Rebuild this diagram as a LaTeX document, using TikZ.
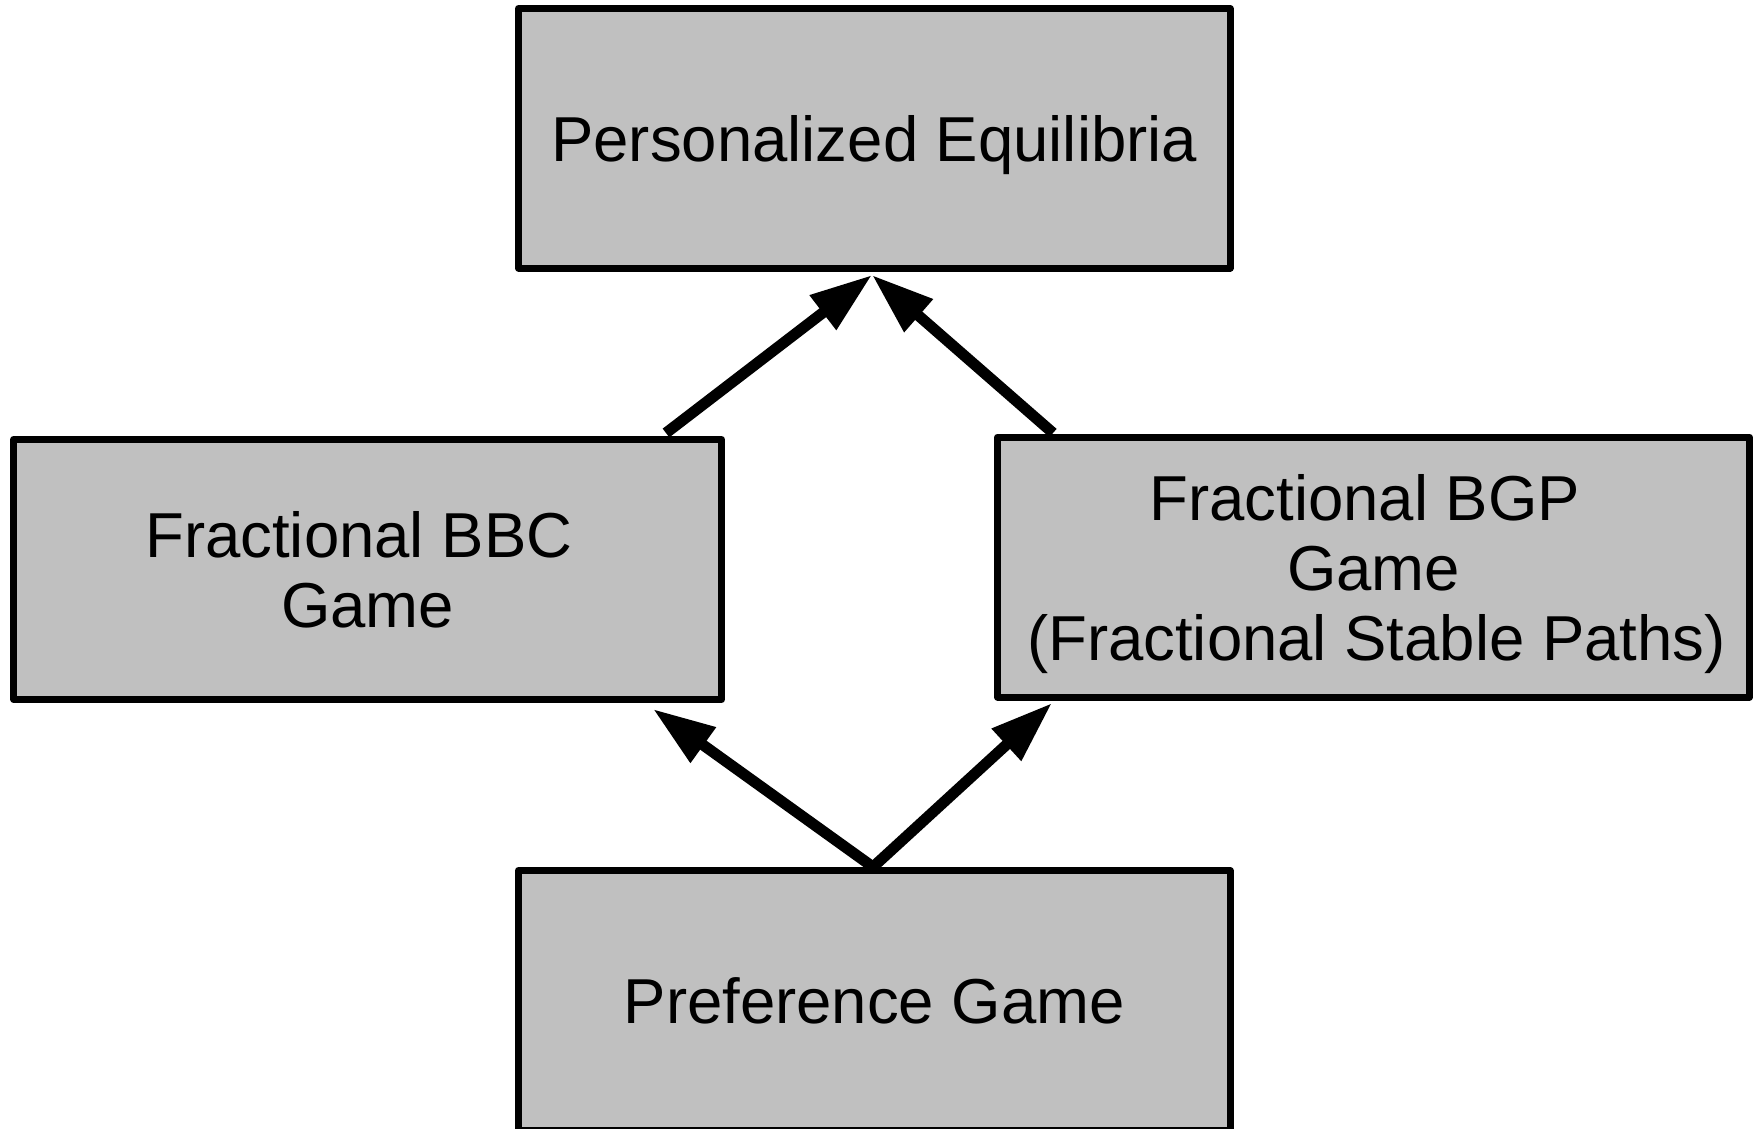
\documentclass[tikz,border=0pt]{standalone}
\usepackage{fontspec}
\setmainfont{Liberation Sans}
\usetikzlibrary{arrows.meta}

\begin{document}
\begin{tikzpicture}[x=1pt, y=-1pt,
  gamebox/.style={draw=black, fill={rgb,255:red,192;green,192;blue,192},
    line width=7pt, line join=round, inner sep=0pt, align=center,
    text depth=0pt, font=\fontsize{63.5}{70}\selectfont},
  reduce/.style={draw=black, line width=11pt,
    -{Triangle[length=62pt, width=41pt]}}]

  % canvas
  \useasboundingbox (0,0) rectangle (1753,1129);

  % the four game classes
  \node[gamebox, minimum width=711.5pt, minimum height=259.5pt]
    (pe) at (874.25,138.25) {Personalized Equilibria};
  \node[gamebox, minimum width=707.8pt, minimum height=260pt]
    (bbc) at (367.6,569.5) {Fractional BBC\hspace*{17.6pt}\\Game};
  \node[gamebox, minimum width=752pt, minimum height=260pt]
    (bgp) at (1373.5,567)
    {Fractional BGP\hspace*{17.6pt}\\Game\\\hspace*{6pt}(Fractional Stable Paths)};
  \node[gamebox, minimum width=711.5pt, minimum height=259.5pt]
    (pref) at (874.25,1000.25) {Preference Game};

  % arrow end points
  \coordinate (pe-in) at (872,275);
  \coordinate (bbc-out) at (666,433);
  \coordinate (bgp-out) at (1053,433);
  \coordinate (bbc-in) at (653,709);
  \coordinate (bgp-in) at (1052,703);
  \coordinate (pref-out) at (873,867);

  % reductions
  \draw[reduce] (bbc-out) -- (pe-in);
  \draw[reduce] (bgp-out) -- (pe-in);
  \draw[reduce] (pref-out) -- (bbc-in);
  \draw[reduce] (pref-out) -- (bgp-in);
\end{tikzpicture}
\end{document}
